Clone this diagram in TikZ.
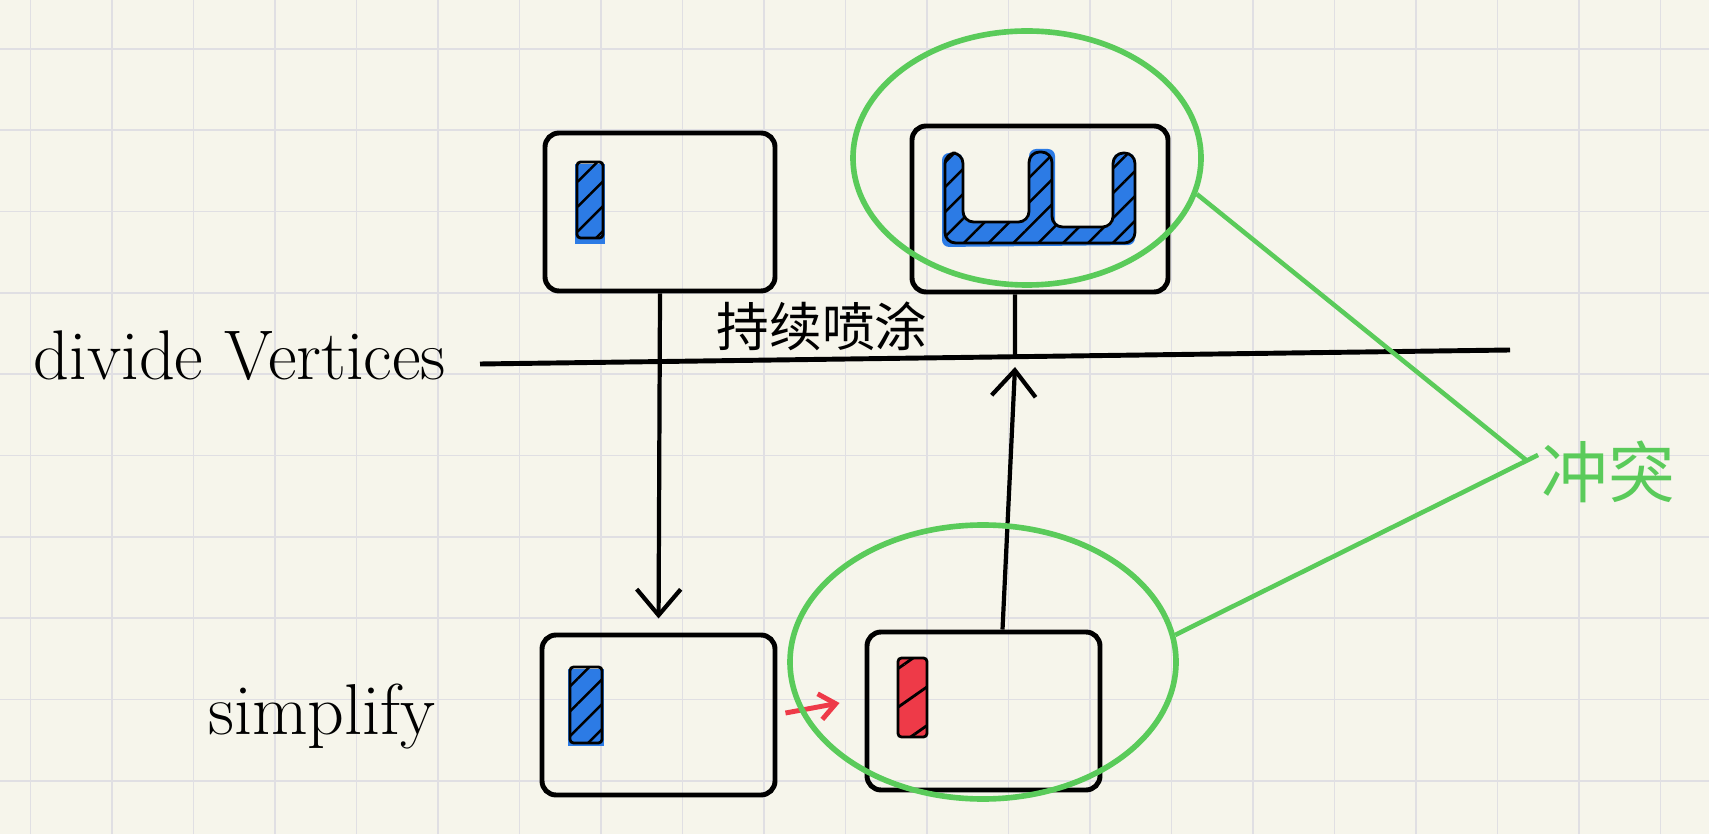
\documentclass[tikz,border=0pt]{standalone}
\usepackage{fontspec}
\newfontfamily\cjk{Noto Sans CJK SC}
\usetikzlibrary{shapes.geometric,patterns.meta,arrows.meta}
\definecolor{paper}{HTML}{F6F5EB}
\definecolor{gridgray}{HTML}{E0DFE3}
\definecolor{hblue}{HTML}{2C7BE5}
\definecolor{hred}{HTML}{EE3A48}
\definecolor{hgreen}{HTML}{5ACB5A}
\tikzset{
  panel/.style={draw,line width=1.4pt,rounded corners=4pt,inner sep=0pt},
  ring/.style={draw=hgreen,line width=1.6pt,ellipse,inner sep=0pt},
  hatchbar/.style={draw,thick,rounded corners=1pt,
    pattern={Lines[angle=45,distance=5pt,line width=0.7pt]},pattern color=black},
  gridline/.style={gridgray,line width=0.5pt},
}
\begin{document}
\begin{tikzpicture}[>={Straight Barb[length=2.6mm,width=4.4mm]}]
  % paper 17.09 x 8.34, grid pitch 0.815
  \fill[paper] (0,0) rectangle (17.09,8.34);
  \useasboundingbox (0,0) rectangle (17.09,8.34);
  \foreach \k in {0,...,20} {
    \draw[gridline] ({0.305+0.815*\k},0) -- ({0.305+0.815*\k},8.34);
  }
  \foreach \k in {0,...,9} {
    \draw[gridline] (0,{7.85-0.813*\k}) -- (17.09,{7.85-0.813*\k});
  }

  % Four panels: top row = divide Vertices, bottom row = simplify
  \node[panel,minimum width=2.30cm,minimum height=1.58cm] (tl) at (6.60,6.22) {};
  \node[panel,minimum width=2.56cm,minimum height=1.66cm] (tr) at (10.40,6.25) {};
  \node[panel,minimum width=2.33cm,minimum height=1.60cm] (bl) at (6.585,1.19) {};
  \node[panel,minimum width=2.33cm,minimum height=1.58cm] (br) at (9.835,1.23) {};

  % Blue / red hatched pieces
  \fill[hblue] (5.75,5.90) rectangle (6.05,6.70);
  \draw[hatchbar] (5.77,5.96) rectangle (6.03,6.72);
  \fill[hblue] (5.68,0.88) rectangle (6.04,1.65);
  \draw[hatchbar] (5.70,0.91) rectangle (6.02,1.67);
  \fill[hred] (8.98,0.97) rectangle (9.27,1.76);
  \draw[hatchbar,pattern={Lines[angle=35,distance=9pt,line width=0.8pt]}]
    (8.98,0.97) rectangle (9.27,1.76);
  % U-shaped piece in the top right panel
  \fill[hblue,rounded corners=2pt]
    (9.42,5.87) -- (9.42,6.81) -- (9.63,6.81) -- (9.63,6.12) -- (10.29,6.12)
    -- (10.29,6.85) -- (10.55,6.85) -- (10.55,6.07) -- (11.13,6.07)
    -- (11.13,6.81) -- (11.35,6.81) -- (11.35,5.89) -- cycle;
  \draw[hatchbar,rounded corners=3pt]
    (9.45,5.91) -- (9.45,6.81) -- (9.63,6.81) -- (9.63,6.12) -- (10.29,6.12)
    -- (10.29,6.82) -- (10.52,6.82) -- (10.52,6.07) -- (11.13,6.07)
    -- (11.13,6.81) -- (11.35,6.81) -- (11.35,5.91) -- cycle;

  % Row labels and the divide line
  \node[font=\fontsize{20}{22}\selectfont] (divlab) at (2.40,4.78) {divide Vertices};
  \node[font=\fontsize{20.5}{22}\selectfont] (simlab) at (3.22,1.17) {simplify};
  \coordinate (lineL) at (4.80,4.70);
  \coordinate (lineR) at (15.10,4.84);
  \draw[line width=1.4pt] (lineL) -- (lineR);
  \node[font=\cjk\fontsize{15}{17}\selectfont] (spray) at (8.22,5.08) {持续喷涂};

  % Arrows between panels
  \draw[line width=1.2pt,->,shorten >=4pt] (tl.south) -- (bl.north);
  \coordinate (hit) at (10.15,4.67);
  \coordinate (meet) at (10.15,4.79);
  \draw[line width=1.2pt,->] ([xshift=1.9mm]br.north) -- (hit);
  \draw[line width=1.2pt] ([xshift=-2.5mm]tr.south) -- (meet);
  \draw[hred,line width=1.4pt,->,>={Straight Barb[length=1.6mm,width=2.6mm]}]
    ([xshift=0.8mm,yshift=0.2mm]bl.east) -- ([xshift=-2.5mm,yshift=0.8mm]br.west);

  % Conflict rings
  \node[ring,minimum width=3.48cm,minimum height=2.54cm] (topring) at (10.27,6.76) {};
  \node[ring,minimum width=3.86cm,minimum height=2.74cm] (lowring) at (9.83,1.72) {};
  \coordinate (apex) at (15.26,3.74);
  \draw[hgreen,line width=1.3pt] (topring.-12) -- (apex);
  \draw[hgreen,line width=1.3pt] (lowring.8) -- ([xshift=1.2mm,yshift=0.5mm]apex);
  \node[font=\cjk\fontsize{19}{21}\selectfont,text=hgreen] (clash) at (16.08,3.62) {冲突};
\end{tikzpicture}
\end{document}
